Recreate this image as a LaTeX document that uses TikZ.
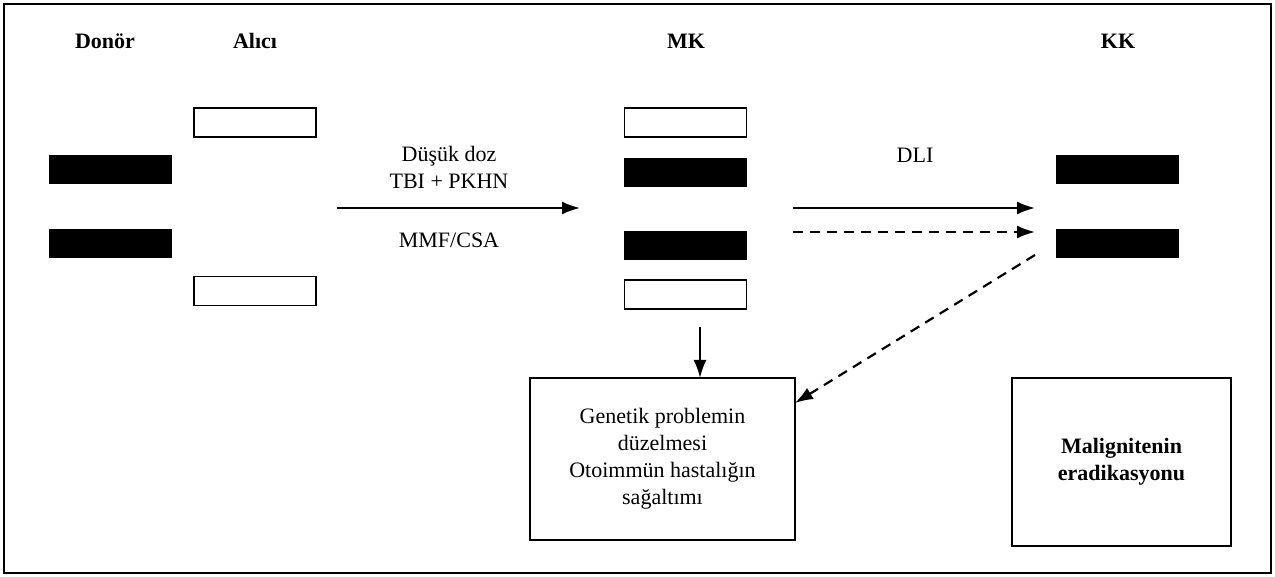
\documentclass[tikz,border=0pt]{standalone}
\usepackage{fontspec}
\setmainfont{Liberation Serif}
\usetikzlibrary{arrows.meta}
\tikzstyle{emptybox} = [rectangle, draw=black, line width=0.6pt, fill=white, minimum width=61pt, minimum height=14.5pt, inner sep=0pt, outer sep=0pt]
\tikzstyle{fullbox} = [rectangle, draw=black, fill=black, minimum width=61pt, minimum height=14pt, inner sep=0pt, outer sep=0pt]
\tikzstyle{title} = [font=\fontsize{11}{13.5}\selectfont\bfseries]
\tikzstyle{resultbox} = [rectangle, draw=black, line width=0.6pt, align=center, inner sep=0pt, outer sep=0pt]
\tikzstyle{arrow} = [line width=1.1pt, -{Latex[length=9pt,width=6.5pt]}]
\tikzstyle{dasharrow} = [arrow, dash pattern=on 5pt off 3.5pt]

\begin{document}
\begin{tikzpicture}[x=0.5pt, y=-0.5pt, font=\fontsize{11}{13.5}\selectfont]
			\useasboundingbox (0,0) rectangle (1275,577);
			\draw[line width=0.8pt] (4,4) rectangle (1271,573);
			
			\node[title] (donor) at (105,41) {Donör};
			\node[title] (alici) at (255,41) {Alıcı};
			\node[title] (mk) at (686,41) {MK};
			\node[title] (kk) at (1118,41) {KK};
			
			\node[fullbox] (d1) at (110.5,169) {};
			\node[fullbox] (d2) at (110.5,243) {};
			\node[emptybox] (a1) at (255,122.5) {};
			\node[emptybox] (a2) at (255,291) {};
			\node[emptybox] (m1) at (685.5,122.5) {};
			\node[fullbox] (m2) at (685.5,172) {};
			\node[fullbox] (m3) at (685.5,245) {};
			\node[emptybox] (m4) at (685.5,294.5) {};
			\node[fullbox] (k1) at (1117.5,169) {};
			\node[fullbox] (k2) at (1117.5,243) {};
			
			\node[resultbox, minimum width=132.5pt, minimum height=81pt] (genetik) at (662.5,459) {Genetik problemin\\düzelmesi\\Otoimmün hastalığın\\sağaltımı};
			\node[resultbox, minimum width=109.5pt, minimum height=84pt, font=\fontsize{11}{13.5}\selectfont\bfseries] (malign) at (1121.5,462) {Malignitenin\\eradikasyonu};
			
			\coordinate (s1) at (337,208);
			\coordinate (e1) at (580,208);
			\coordinate (s2) at (793,208);
			\coordinate (e2) at (1035,208);
			\coordinate (s3) at (793,232);
			\coordinate (e3) at (1035,232);
			\coordinate (s4) at (1035,255);
			\coordinate (s5) at (700,327);
			
			\node[align=center] (tbi) at (449,167) {Düşük doz\\TBI + PKHN};
			\node (mmf) at (449,240) {MMF/CSA};
			\node (dli) at (915,155) {DLI};
			
			\draw [arrow] (s1) -- (e1);
			\draw [arrow] (s2) -- (e2);
			\draw [dasharrow] (s3) -- (e3);
			\draw [dasharrow] (s4) -- ([yshift=-12.5pt]genetik.north east);
			\draw [arrow] (s5) -- (s5 |- genetik.north);
			
		\end{tikzpicture}
\end{document}
